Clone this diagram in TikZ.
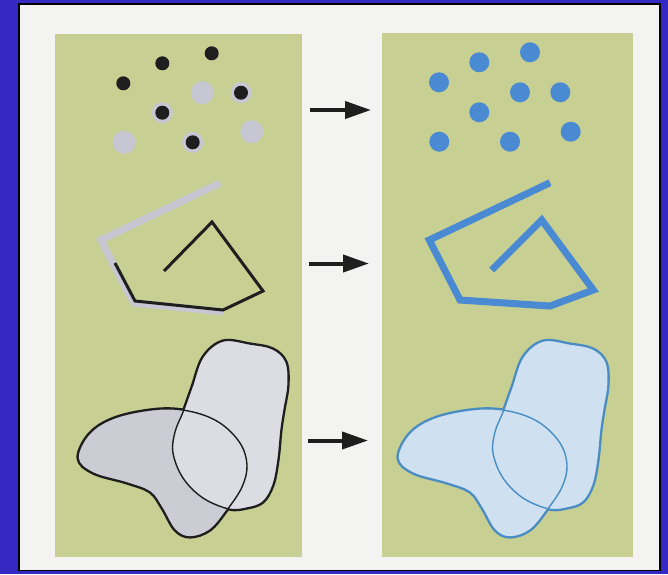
\documentclass[tikz,border=0pt]{standalone}
\usetikzlibrary{arrows.meta}
\definecolor{frameblue}{HTML}{3429C2}
\definecolor{paper}{HTML}{F3F4F2}
\definecolor{panelgreen}{HTML}{C8CF93}
\definecolor{halogrey}{HTML}{C6C7D3}
\definecolor{dotblack}{HTML}{1E1E1E}
\definecolor{dotblue}{HTML}{4A8AD2}
\definecolor{fillgreyA}{HTML}{CBCCD4}
\definecolor{fillgreyB}{HTML}{DCDDE3}
\definecolor{lightblue}{HTML}{CFE1F0}
\definecolor{outlineblue}{HTML}{4A8DC2}
\tikzset{
  panel/.style={fill=panelgreen, draw=none},
  halo/.style={fill=halogrey, draw=none},
  blackdot/.style={fill=dotblack, draw=none},
  bluedot/.style={fill=dotblue, draw=none},
  greypath/.style={draw=halogrey, line width=7pt, line join=miter},
  blackpath/.style={draw=dotblack, line width=3pt, line join=miter},
  bluepath/.style={draw=dotblue, line width=7pt, line join=miter},
  bigarrow/.style={draw=dotblack, line width=4pt, -{Triangle[length=26pt,width=17pt]}},
}
\begin{document}
\begin{tikzpicture}[x=1pt,y=-1pt]
\useasboundingbox (0,0) rectangle (668,574);
% frame
\fill[frameblue] (0,0) rectangle (668,574);
\fill[black] (17.5,3) rectangle (660.5,571);
\fill[paper] (19.5,4.5) rectangle (659,569.5);
% panels
\path[panel] (54.5,33.5) rectangle (302,557);
\path[panel] (382,33) rectangle (633,556.5);

% ---- left dots
\foreach \x/\y in {202.3/92.7,124/142.3,251.7/131.7}
  \fill[halo] (\x,\y) circle (11.5);
\foreach \x/\y in {241/92.7,162.3/112.7,192.7/142.3}
  \fill[halo] (\x,\y) circle (10.5);
\foreach \x/\y in {211.7/53.3,162.3/63.3,123.3/83.3,241/92.7,162.3/112.7,192.7/142.3}
  \fill[blackdot] (\x,\y) circle (7);
% ---- right dots
\foreach \x/\y in {530/52.3,479.3/62.3,439/82.3,520/92.3,560.3/92.3,479.3/112.3,439.3/141.7,510/141.7,570.7/131.7}
  \fill[bluedot] (\x,\y) circle (10);

% ---- left polyline
\draw[greypath] (220,183) -- (101,240) -- (114,266) -- (134,303) -- (223,312);
\draw[blackpath] (115,263) -- (135,301) -- (223,310) -- (263,291) -- (212,222) -- (164,271);
% ---- right polyline
\draw[bluepath] (550,182.7) -- (429.3,240) -- (460,300) -- (550,306) -- (593.3,290) -- (541.7,220) -- (491.7,270);

% ---- arrows
\coordinate (a1s) at (310,110); \coordinate (a1e) at (371,110);
\coordinate (a2s) at (309,263.5); \coordinate (a2e) at (369,263.5);
\coordinate (a3s) at (307.5,440.5); \coordinate (a3e) at (368,440.5);
\draw[bigarrow] (a1s) -- (a1e);
\draw[bigarrow] (a2s) -- (a2e);
\draw[bigarrow] (a3s) -- (a3e);

% ---- blobs
\def\tallblob{plot[smooth cycle, tension=0.6] coordinates {(223,341) (250,344) (273,349) (286,362) (288,385) (284,410) (281,430) (278,460) (273,485) (263,502) (247,508) (229,509) (203,498) (183,478) (173,453) (175,432) (183,412) (192,387) (203,357)}}
\def\wideblob{plot[smooth cycle, tension=0.6] coordinates {(78,458) (90,433) (117,417) (160,409) (193,412) (220,423) (240,443) (247,465) (242,487) (227,510) (210,530) (190,537) (175,530) (162,508) (150,492) (127,483) (93,473)}}
% left blobs
\draw[dotblack, line width=3.2pt] \wideblob;
\draw[dotblack, line width=3.2pt] \tallblob;
\fill[fillgreyA] \wideblob;
\fill[fillgreyB] \tallblob;
\draw[dotblack, line width=1.4pt] \wideblob;
\draw[dotblack, line width=1.4pt] \tallblob;
% right blobs
\begin{scope}[xshift=320pt]
\draw[outlineblue, line width=3.2pt] \wideblob;
\draw[outlineblue, line width=3.2pt] \tallblob;
\fill[lightblue] \wideblob;
\fill[lightblue] \tallblob;
\draw[outlineblue, line width=1.4pt] \wideblob;
\draw[outlineblue, line width=1.4pt] \tallblob;
\end{scope}
\end{tikzpicture}
\end{document}
